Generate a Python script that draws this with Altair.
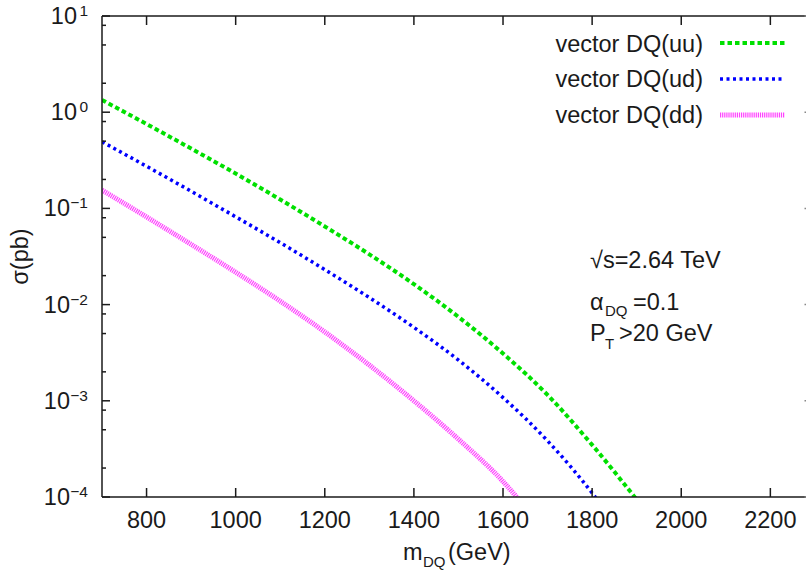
import altair as alt
import pandas as pd

# ---------------- data ----------------
mass_uu = [700, 800, 900, 1000, 1100, 1200, 1300, 1400, 1500, 1600, 1700, 1800, 1900]
sigma_uu = [1.34, 0.753, 0.419, 0.230, 0.1236, 0.0649, 0.0333, 0.0163, 0.00745, 0.0031, 0.00115, 3.48e-4, 9.4e-5]

mass_ud = [700, 800, 900, 1000, 1100, 1200, 1300, 1400, 1500, 1600, 1700, 1800, 1820]
sigma_ud = [0.493, 0.274, 0.1507, 0.0818, 0.0440, 0.0231, 0.01183, 0.00579, 0.00265, 0.00108, 3.83e-4, 1.10e-4, 8.3e-5]

mass_dd = [700, 800, 900, 1000, 1100, 1200, 1300, 1400, 1500, 1600, 1640]
sigma_dd = [0.155, 0.0815, 0.0423, 0.0217, 0.01086, 0.0052, 0.00235, 0.0010, 3.99e-4, 1.45e-4, 8.9e-5]

series_names = ["vector DQ(uu)", "vector DQ(ud)", "vector DQ(dd)"]

x_ticks = [800, 1000, 1200, 1400, 1600, 1800, 2000, 2200]
x_tick_labels = ["800", "1000", "1200", "1400", "1600", "1800", "2000", "2200"]
x_min, x_max = 700, 2280
y_ticks = [1e-4, 1e-3, 1e-2, 1e-1, 1, 10]
y_exponents = ["−4", "−3", "−2", "−1", "0", "1"]
y_minor = [m * d for d in [1e-4, 1e-3, 1e-2, 1e-1, 1] for m in (2, 5, 8)]

y_title = "σ(pb)"
x_title = ["m", "DQ", "(GeV)"]
ann_energy = "√s=2.64 TeV"
ann_alpha = ["α", "DQ", "=0.1"]
ann_pt = ["P", "T", ">20 GeV"]

# ---------------- layout / style ----------------
W, H = 704, 481
FONT = "Liberation Sans"
FS = 23.5
SUB = 15
SUP = 15.5
INK = "#1a1a1a"
LW = 1.5

xs = alt.Scale(domain=[x_min, x_max], nice=False, zero=False)
ys = alt.Scale(type="log", domain=[1e-4, 10], nice=False)

styles = [
    dict(color="#00e000", dash=[4.5, 3], width=4),
    dict(color="#0000ff", dash=[3, 3.5], width=3.5),
    dict(color="#ff44ff", dash=[1.2, 0.9], width=5),
]

layers = []
for name, ms, ss, st in zip(series_names, [mass_uu, mass_ud, mass_dd],
                            [sigma_uu, sigma_ud, sigma_dd], styles):
    fr = pd.DataFrame({"series": name, "mass": ms, "sigma": ss})
    layers.append(
        alt.Chart(fr).mark_line(color=st["color"], strokeDash=st["dash"], strokeWidth=st["width"],
                                interpolate="monotone", clip=True).encode(
            x=alt.X("mass:Q", scale=xs, axis=None),
            y=alt.Y("sigma:Q", scale=ys, axis=None),
        )
    )

# frame lines: left border at the x-domain start, bottom and top borders
left = pd.DataFrame({"m": [x_min]})
layers.append(alt.Chart(left).mark_rule(color=INK, strokeWidth=LW).encode(
    x=alt.X("m:Q", scale=xs, axis=None), y=alt.value(0), y2=alt.value(H)))
one = pd.DataFrame({"k": [0]})
for yy in (H, 0):
    layers.append(alt.Chart(one).mark_rule(color=INK, strokeWidth=LW).encode(
        x=alt.value(0), x2=alt.value(W), y=alt.value(yy)))

# inward ticks on x (bottom and top)
xt = pd.DataFrame({"m": x_ticks, "lab": x_tick_labels})
layers.append(alt.Chart(xt).mark_rule(color=INK, strokeWidth=LW).encode(
    x=alt.X("m:Q", scale=xs, axis=None), y=alt.value(H), y2=alt.value(H - 9)))
layers.append(alt.Chart(xt).mark_rule(color=INK, strokeWidth=LW).encode(
    x=alt.X("m:Q", scale=xs, axis=None), y=alt.value(0), y2=alt.value(9)))
# x tick labels
layers.append(alt.Chart(xt).mark_text(
    font=FONT, fontSize=FS, color=INK, align="center", baseline="alphabetic").encode(
    x=alt.X("m:Q", scale=xs, axis=None), y=alt.value(H + 31), text="lab:N"))

# inward ticks on y (left), tips of right-border ticks
yt = pd.DataFrame({"v": y_ticks, "e": y_exponents})
ym = pd.DataFrame({"v": y_minor})
layers.append(alt.Chart(yt).mark_rule(color=INK, strokeWidth=LW).encode(
    y=alt.Y("v:Q", scale=ys, axis=None), x=alt.value(0), x2=alt.value(8)))
layers.append(alt.Chart(ym).mark_rule(color=INK, strokeWidth=LW).encode(
    y=alt.Y("v:Q", scale=ys, axis=None), x=alt.value(0), x2=alt.value(4)))
layers.append(alt.Chart(yt).mark_rule(color="#888888", strokeWidth=LW).encode(
    y=alt.Y("v:Q", scale=ys, axis=None), x=alt.value(W - 1.5), x2=alt.value(W)))

# y tick labels: "10" with a raised exponent
layers.append(alt.Chart(yt).transform_filter("datum.v >= 1").mark_text(
    font=FONT, fontSize=FS, color=INK, align="right", baseline="alphabetic", dy=8).encode(
    y=alt.Y("v:Q", scale=ys, axis=None), x=alt.value(-25), text=alt.value("10")))
layers.append(alt.Chart(yt).transform_filter("datum.v < 1").mark_text(
    font=FONT, fontSize=FS, color=INK, align="right", baseline="alphabetic", dy=8).encode(
    y=alt.Y("v:Q", scale=ys, axis=None), x=alt.value(-32), text=alt.value("10")))
layers.append(alt.Chart(yt).mark_text(
    font=FONT, fontSize=SUP, color=INK, align="right", baseline="alphabetic", dy=0).encode(
    y=alt.Y("v:Q", scale=ys, axis=None), x=alt.value(-14), text="e:N"))


def text_layer(txt, px, py, size=FS, align="left", angle=0, baseline="alphabetic"):
    return alt.Chart(pd.DataFrame({"t": [txt]})).mark_text(
        font=FONT, fontSize=size, color=INK, align=align, baseline=baseline, angle=angle
    ).encode(x=alt.value(px), y=alt.value(py), text="t:N")


# y-axis title
layers.append(text_layer(y_title, -81, H / 2, angle=270, align="center", baseline="middle"))

# legend
leg_y_text = [36, 71, 107]
leg_y_line = [27, 63, 99]
for name, st, ty, ly in zip(series_names, styles, leg_y_text, leg_y_line):
    layers.append(text_layer(name, 601, ty, align="right"))
    layers.append(
        alt.Chart(pd.DataFrame({"t": [name]})).mark_rule(
            color=st["color"], strokeDash=st["dash"], strokeWidth=st["width"]
        ).encode(x=alt.value(618), x2=alt.value(683), y=alt.value(ly))
    )

# annotations
layers.append(text_layer(ann_energy, 488, 252))
layers.append(text_layer(ann_alpha[0], 488, 294))
layers.append(text_layer(ann_alpha[1], 503, 300, size=SUB))
layers.append(text_layer(ann_alpha[2], 531, 294))
layers.append(text_layer(ann_pt[0], 488, 325))
layers.append(text_layer(ann_pt[1], 503, 333, size=SUB))
layers.append(text_layer(ann_pt[2], 517, 325))

# x-axis title  m_DQ(GeV)
layers.append(text_layer(x_title[0], 301, 544))
layers.append(text_layer(x_title[1], 321, 551, size=SUB))
layers.append(text_layer(x_title[2], 346, 544))

chart = alt.layer(*layers).properties(
    width=W, height=H,
    autosize=alt.AutoSizeParams(type="none"),
    padding={"left": 102, "top": 16, "right": 0, "bottom": 78},
    background="white",
).configure_view(stroke=None)

chart.save("out.html", embed_options={"renderer": "svg", "actions": False})
